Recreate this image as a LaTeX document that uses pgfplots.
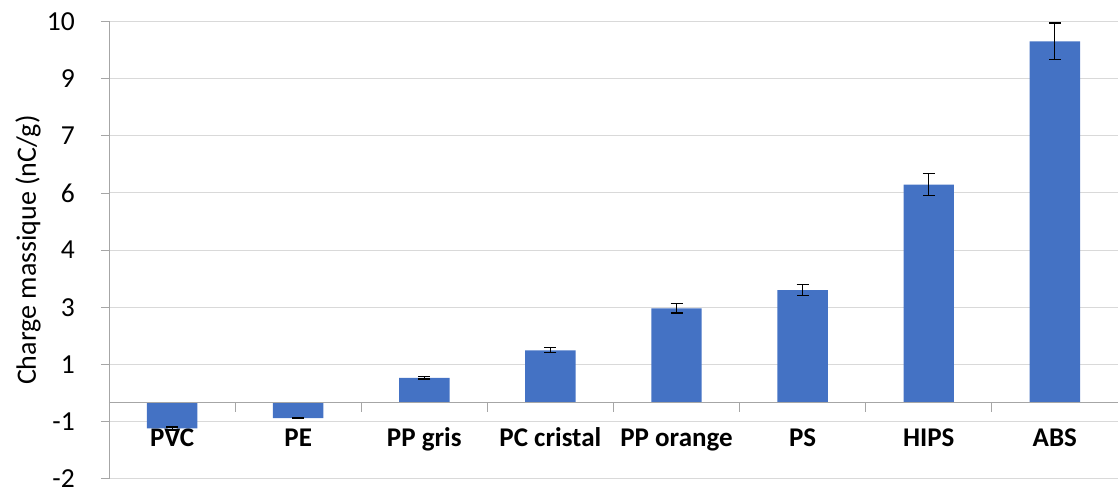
\documentclass[border=0pt]{standalone}
\usepackage{pgfplots}
\pgfplotsset{compat=1.18}
\usepackage{fontspec}
\setmainfont{Carlito}
\definecolor{barblue}{HTML}{4472C4}
\definecolor{gridgray}{HTML}{D9D9D9}
\definecolor{axgray}{HTML}{A6A6A6}

\begin{document}
\begin{tikzpicture}
\useasboundingbox (-109pt,-13.5pt) rectangle (1009pt,478.8pt);
\begin{axis}[%
at={(0pt,0pt)}, anchor=south west,
width=1009pt,
height=457.3pt,
scale only axis,
xmin=-0.5, xmax=7.5,
ymin=-2, ymax=10,
axis lines*=left,
x axis line style={draw=none},
y axis line style={draw=axgray, line width=0.9pt},
ytick={-2,-0.5,1,2.5,4,5.5,7,8.5,10},
yticklabels={-2,-1,1,3,4,6,7,9,10},
xtick={0,1,2,3,4,5,6,7},
xticklabels={PVC,PE,PP gris,PC cristal,PP orange,PS,HIPS,ABS},
xticklabel style={font=\fontsize{27}{32}\selectfont\bfseries, anchor=base, yshift=40pt},
yticklabel style={font=\fontsize{27.5}{32}\selectfont, anchor=east, inner sep=2pt, xshift=-24pt},
/pgf/number format/assume math mode=true,
x tick style={draw=none},
y tick style={draw=axgray, line width=0.9pt},
major tick length=8pt,
tick align=outside,
ymajorgrids,
grid style={draw=gridgray, line width=1pt},
ylabel={Charge massique (nC/g)},
every axis y label/.style={at={(rel axis cs:0,0.5)}, xshift=-81pt, rotate=90, anchor=center, font=\fontsize{28}{33}\selectfont},
clip=false,
]
\addplot[ybar, bar width=0.4, fill=barblue, draw=none,
  error bars/.cd, y dir=both, y explicit,
  error mark options={rotate=90, mark size=6pt, line width=1.1pt, black},
  error bar style={line width=1.1pt, black}]
coordinates {
(0,-0.68) +- (0,0.04)
(1,-0.41) +- (0,0.012)
(2,0.65) +- (0,0.03)
(3,1.37) +- (0,0.065)
(4,2.47) +- (0,0.12)
(5,2.95) +- (0,0.15)
(6,5.72) +- (0,0.29)
(7,9.48) +- (0,0.48)
};
\draw[axgray, line width=1pt] (axis cs:-0.5,0) -- (axis cs:7.5,0);
\pgfplotsinvokeforeach{0.5,1.5,2.5,3.5,4.5,5.5,6.5}{
  \draw[axgray, line width=0.9pt] (axis cs:#1,0) -- (axis cs:#1,-0.24);
}
\end{axis}
\end{tikzpicture}
\end{document}
